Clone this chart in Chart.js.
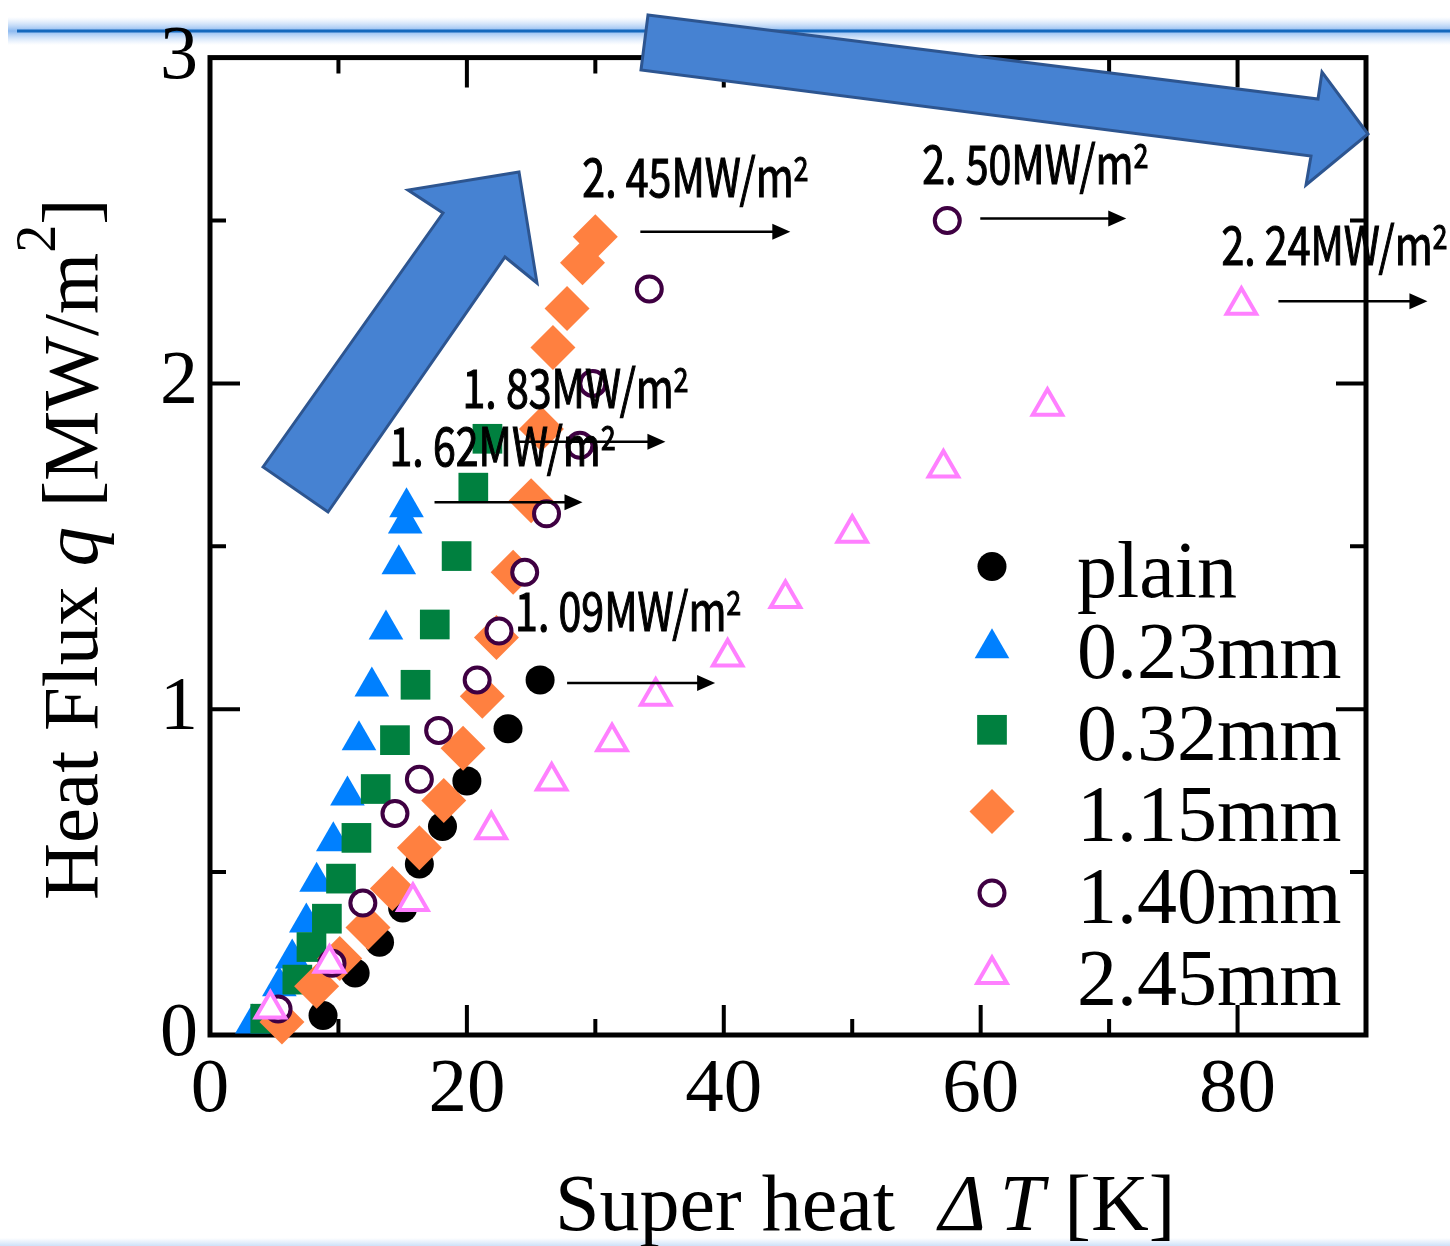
<!DOCTYPE html>
<html>
<head>
<meta charset="utf-8">
<script src="https://cdn.jsdelivr.net/npm/chart.js@4.4.1/dist/chart.umd.min.js"></script>
<style>
  html, body { margin: 0; padding: 0; background: #fff; }
  #wrap { width: 1450px; height: 1246px; }
</style>
</head>
<body>
<div id="wrap"><canvas id="boilChart" width="1450" height="1246"></canvas></div>
<script>
// Boiling curves: wall superheat [K] against heat flux [MW/m2] for each surface
const seriesLabels = ['plain', '0.23mm', '0.32mm', '1.15mm', '1.40mm', '2.45mm'];

const plainDT = [8.8, 11.3, 13.2, 15.0, 16.3, 18.1, 20.0, 23.2, 25.7];
const plainQ  = [0.06, 0.19, 0.285, 0.39, 0.525, 0.64, 0.78, 0.94, 1.09];

const d023DT = [3.3, 5.4, 6.4, 7.5, 8.3, 9.6, 10.7, 11.6, 12.6, 13.7, 14.7, 15.2, 15.3];
const d023Q  = [0.035, 0.15, 0.235, 0.345, 0.47, 0.595, 0.735, 0.905, 1.07, 1.245, 1.445, 1.57, 1.62];

const d032DT = [4.3, 6.8, 7.9, 9.1, 10.2, 11.4, 12.9, 14.4, 16.0, 17.5, 19.2, 20.5, 21.6];
const d032Q  = [0.05, 0.17, 0.27, 0.357, 0.48, 0.605, 0.755, 0.905, 1.075, 1.26, 1.47, 1.68, 1.83];

const d115DT = [5.6, 8.3, 10.1, 12.3, 14.2, 16.3, 18.2, 19.7, 21.2, 22.3, 23.6, 25.0, 25.8, 26.7, 27.8, 29.0, 30.0];
const d115Q  = [0.04, 0.15, 0.235, 0.33, 0.45, 0.575, 0.72, 0.88, 1.04, 1.22, 1.42, 1.64, 1.86, 2.11, 2.23, 2.37, 2.45];

const d140DT = [5.3, 9.5, 11.9, 14.4, 16.3, 17.8, 20.8, 22.5, 24.5, 26.2, 28.8, 29.8, 34.2, 57.4];
const d140Q  = [0.08, 0.22, 0.405, 0.68, 0.785, 0.935, 1.09, 1.24, 1.42, 1.60, 1.81, 2.0, 2.29, 2.50];

const d245DT = [4.7, 9.3, 15.8, 21.9, 26.6, 31.3, 34.7, 40.3, 44.8, 50.0, 57.1, 65.2, 80.3];
const d245Q  = [0.08, 0.22, 0.41, 0.63, 0.78, 0.9, 1.04, 1.16, 1.34, 1.54, 1.74, 1.93, 2.24];

const xTickLabels = [0, 20, 40, 60, 80];
const yTickLabels = [0, 1, 2, 3];

const pts = (xs, ys) => xs.map((v, i) => ({ x: v, y: ys[i] }));

// where each CHF note sits relative to its last point (px)
const noteLayout = [
  { tx: -25, ty: -49, a0: 27, a1: 175, ay: 3 },
  { tx: -17, ty: -41, a0: 28, a1: 176, ay: -5 },
  { tx: -25, ty: -31, a0: 30, a1: 178, ay: 3 },
  { tx: -13, ty: -40, a0: 45, a1: 195, ay: -5 },
  { tx: -25, ty: -37, a0: 33, a1: 179, ay: -2 },
  { tx: -20, ty: -40, a0: 37, a1: 186, ay: -4 }
];

const serif = "'Liberation Serif', 'Times New Roman', serif";
const gothic = "'Noto Sans CJK JP', 'Noto Sans', sans-serif";

const slideBackdrop = {
  id: 'slideBackdrop',
  beforeDraw(chart) {
    const { ctx, width, height } = chart;
    ctx.save();
    ctx.fillStyle = '#fff';
    ctx.fillRect(0, 0, width, height);
    // glowing rule across the top of the slide
    const g = ctx.createLinearGradient(0, 17, 0, 45);
    g.addColorStop(0, 'rgba(190,215,248,0)');
    g.addColorStop(0.5, 'rgba(140,185,240,1)');
    g.addColorStop(1, 'rgba(190,215,248,0)');
    ctx.fillStyle = g;
    ctx.fillRect(8, 17, width - 8, 28);
    ctx.strokeStyle = '#1468bd';
    ctx.lineWidth = 3;
    ctx.beginPath();
    ctx.moveTo(17, 31);
    ctx.lineTo(width, 31);
    ctx.stroke();
    // faint band at the bottom edge
    const b = ctx.createLinearGradient(0, height - 8, 0, height);
    b.addColorStop(0, 'rgba(200,222,248,0)');
    b.addColorStop(1, 'rgba(200,222,248,0.9)');
    ctx.fillStyle = b;
    ctx.fillRect(0, height - 8, width, 8);
    ctx.restore();
  }
};

const frameTicks = {
  id: 'frameTicks',
  beforeDatasetsDraw(chart) {
    const { ctx, chartArea: a, scales: { x, y } } = chart;
    ctx.save();
    ctx.strokeStyle = '#000';
    ctx.lineWidth = 4;
    ctx.beginPath();
    x.ticks.forEach(t => {
      if (t.value <= x.min || t.value >= x.max) return;
      const px = x.getPixelForValue(t.value);
      const len = xTickLabels.includes(t.value) ? 30 : 16;
      ctx.moveTo(px, a.bottom); ctx.lineTo(px, a.bottom - len);
      ctx.moveTo(px, a.top); ctx.lineTo(px, a.top + len);
    });
    y.ticks.forEach(t => {
      if (t.value <= y.min || t.value >= y.max) return;
      const py = y.getPixelForValue(t.value);
      const len = yTickLabels.includes(t.value) ? 30 : 16;
      ctx.moveTo(a.left, py); ctx.lineTo(a.left + len, py);
      ctx.moveTo(a.right, py); ctx.lineTo(a.right - len, py);
    });
    ctx.stroke();
    ctx.lineWidth = 5;
    ctx.strokeRect(a.left, a.top, a.width, a.height);
    ctx.restore();
  }
};

function drawNote(ctx, text, x, baseline) {
  ctx.save();
  ctx.fillStyle = '#000';
  ctx.strokeStyle = '#000';
  ctx.lineWidth = 1.2;
  ctx.textBaseline = 'alphabetic';
  ctx.font = '53px ' + gothic;
  const w1 = ctx.measureText(text).width;
  ctx.font = '34px ' + gothic;
  const w2 = ctx.measureText('2').width;
  const sx = 226 / (w1 + w2);
  ctx.translate(x, baseline);
  ctx.scale(sx, 1);
  ctx.font = '53px ' + gothic;
  ctx.fillText(text, 0, 0);
  ctx.strokeText(text, 0, 0);
  ctx.font = '34px ' + gothic;
  ctx.fillText('2', w1, -16);
  ctx.strokeText('2', w1, -16);
  ctx.restore();
}

const peakNotes = {
  id: 'peakNotes',
  afterDatasetsDraw(chart) {
    const { ctx, scales: { x, y } } = chart;
    chart.data.datasets.forEach((ds, i) => {
      const top = ds.data.reduce((m, p) => (p.y > m.y ? p : m), ds.data[0]);
      const px = x.getPixelForValue(top.x), py = y.getPixelForValue(top.y);
      const L = noteLayout[i];
      const v = top.y.toFixed(2).split('.');
      drawNote(ctx, v[0] + '. ' + v[1] + 'MW/m', px + L.tx, py + L.ty);
      // arrow to the right of the CHF point
      const ay = py + L.ay, x0 = px + L.a0, x1 = px + L.a1;
      ctx.save();
      ctx.strokeStyle = '#000';
      ctx.fillStyle = '#000';
      ctx.lineWidth = 2.5;
      ctx.beginPath();
      ctx.moveTo(x0, ay);
      ctx.lineTo(x1 - 14, ay);
      ctx.stroke();
      ctx.beginPath();
      ctx.moveTo(x1, ay);
      ctx.lineTo(x1 - 18, ay - 8);
      ctx.lineTo(x1 - 18, ay + 8);
      ctx.closePath();
      ctx.fill();
      ctx.restore();
    });
  }
};

const markerLegend = {
  id: 'markerLegend',
  afterDatasetsDraw(chart) {
    const { ctx, chartArea: a } = chart;
    ctx.save();
    chart.data.datasets.forEach((ds, i) => {
      const cx = a.right - 374;
      const cy = a.top + 509 + i * 81.6;
      ctx.fillStyle = ds.pointBackgroundColor;
      ctx.strokeStyle = ds.pointBorderColor;
      ctx.lineWidth = ds.pointBorderWidth;
      Chart.helpers.drawPoint(ctx, {
        pointStyle: ds.pointStyle,
        radius: ds.pointRadius,
        borderWidth: ds.pointBorderWidth,
        rotation: 0
      }, cx, cy);
      ctx.fillStyle = '#000';
      ctx.font = '80px ' + serif;
      ctx.textBaseline = 'alphabetic';
      ctx.textAlign = 'left';
      ctx.fillText(ds.label, a.right - 289, cy + 30);
    });
    ctx.restore();
  }
};

// draws text pieces one after another: [text, font, raise, extra gap after]
function drawRun(ctx, parts, x, y) {
  let cx = x;
  parts.forEach(([txt, font, dy, gap]) => {
    ctx.font = font;
    ctx.fillText(txt, cx, y + (dy || 0));
    cx += ctx.measureText(txt).width + (gap || 0);
  });
}

const axisTitles = {
  id: 'axisTitles',
  afterDraw(chart) {
    const { ctx } = chart;
    ctx.save();
    ctx.fillStyle = '#000';
    ctx.textBaseline = 'alphabetic';
    ctx.textAlign = 'left';
    drawRun(ctx, [
      ['Super heat  ', '80px ' + serif, 0, 4],
      ['\u0394', 'italic 80px ' + serif, 0, 14],
      ['T', 'italic 80px ' + serif, 0, 0],
      [' [K]', '80px ' + serif]
    ], 555, 1230);
    ctx.translate(97, 900);
    ctx.rotate(-Math.PI / 2);
    drawRun(ctx, [
      ['Heat Flux ', '79px ' + serif],
      ['q', 'italic 79px ' + serif],
      [' [MW/m', '79px ' + serif],
      ['2', '56px ' + serif, -42],
      [']', '79px ' + serif]
    ], 0, 0);
    ctx.restore();
  }
};

// block arrows laid over the slide
const calloutArrows = {
  id: 'calloutArrows',
  afterDraw(chart) {
    const { ctx } = chart;
    const shapes = [
      [[263, 467], [443, 213], [408, 190], [519, 172], [537, 283], [505, 257], [328, 512]],
      [[648, 15], [1318, 99], [1322, 72], [1368, 134], [1306, 185], [1311, 156], [641, 70]]
    ];
    ctx.save();
    ctx.fillStyle = '#4682d2';
    ctx.strokeStyle = '#2d5590';
    ctx.lineWidth = 3;
    ctx.lineJoin = 'miter';
    shapes.forEach(s => {
      ctx.beginPath();
      s.forEach(([px, py], k) => (k ? ctx.lineTo(px, py) : ctx.moveTo(px, py)));
      ctx.closePath();
      ctx.fill();
      ctx.stroke();
    });
    ctx.restore();
  }
};

const ds = (label, data, style, radius, fill, border, bw, order) => ({
  label, data, order,
  pointStyle: style,
  pointRadius: radius,
  pointHoverRadius: radius,
  pointBackgroundColor: fill,
  pointBorderColor: border,
  pointBorderWidth: bw,
  showLine: false,
  clip: false
});

new Chart(document.getElementById('boilChart'), {
  type: 'scatter',
  data: {
    datasets: [
      ds(seriesLabels[0], pts(plainDT, plainQ), 'circle', 14.5, '#000000', '#000000', 0, 5),
      ds(seriesLabels[1], pts(d023DT, d023Q), 'triangle', 20, '#0080ff', '#0080ff', 0, 4),
      ds(seriesLabels[2], pts(d032DT, d032Q), 'rect', 21, '#00803f', '#00803f', 0, 3),
      ds(seriesLabels[3], pts(d115DT, d115Q), 'rectRot', 22.5, '#ff8040', '#ff8040', 0, 2),
      ds(seriesLabels[4], pts(d140DT, d140Q), 'circle', 12.5, '#ffffff', '#3f0042', 4, 1),
      ds(seriesLabels[5], pts(d245DT, d245Q), 'triangle', 17, '#ffffff', '#ff80ff', 4, 0)
    ]
  },
  options: {
    responsive: false,
    animation: false,
    events: [],
    layout: { padding: { left: 0, right: 84, top: 53, bottom: 0 } },
    plugins: { legend: { display: false }, tooltip: { enabled: false }, title: { display: false } },
    scales: {
      x: {
        type: 'linear', min: 0, max: 90,
        afterFit: s => { s.height = 211; },
        grid: { display: false, drawTicks: false },
        border: { display: false },
        ticks: {
          stepSize: 10, autoSkip: false, maxRotation: 0, padding: 10,
          color: '#000', font: { family: serif, size: 77 },
          callback: v => (xTickLabels.includes(v) ? String(v) : '')
        }
      },
      y: {
        type: 'linear', min: 0, max: 3,
        afterFit: s => { s.width = 210; },
        grid: { display: false, drawTicks: false },
        border: { display: false },
        ticks: {
          stepSize: 0.5, autoSkip: false, padding: 12,
          color: '#000', font: { family: serif, size: 76 },
          callback: v => (yTickLabels.includes(v) ? String(v) : '')
        }
      }
    }
  },
  plugins: [slideBackdrop, frameTicks, peakNotes, markerLegend, axisTitles, calloutArrows]
});
</script>
</body>
</html>
